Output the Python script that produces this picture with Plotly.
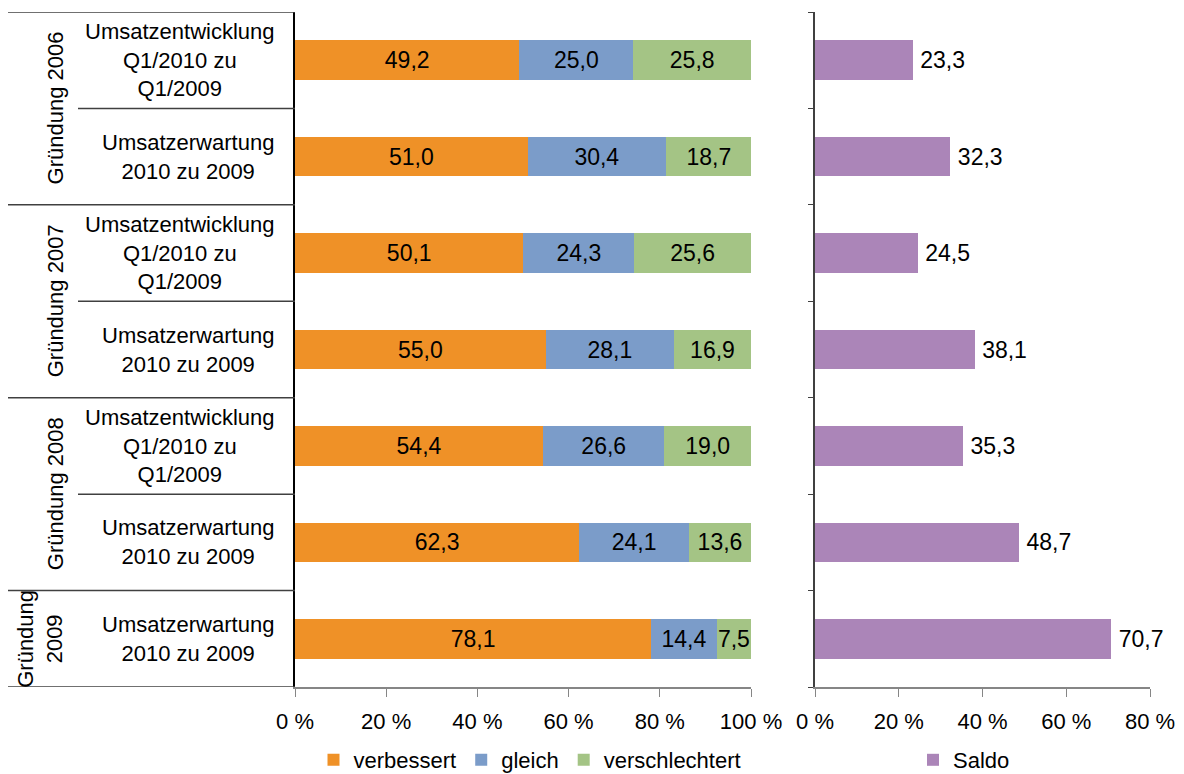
import plotly.graph_objects as go

categories = [
    "Umsatzentwicklung<br>Q1/2010 zu<br>Q1/2009",
    "Umsatzerwartung<br>2010 zu 2009",
    "Umsatzentwicklung<br>Q1/2010 zu<br>Q1/2009",
    "Umsatzerwartung<br>2010 zu 2009",
    "Umsatzentwicklung<br>Q1/2010 zu<br>Q1/2009",
    "Umsatzerwartung<br>2010 zu 2009",
    "Umsatzerwartung<br>2010 zu 2009",
]
groups = ["Gründung 2006", "Gründung 2007", "Gründung 2008", "Gründung<br>2009"]
group_spans = [(0, 1), (2, 3), (4, 5), (6, 6)]

verbessert = [49.2, 51.0, 50.1, 55.0, 54.4, 62.3, 78.1]
gleich = [25.0, 30.4, 24.3, 28.1, 26.6, 24.1, 14.4]
verschlechtert = [25.8, 18.7, 25.6, 16.9, 19.0, 13.6, 7.5]
saldo = [23.3, 32.3, 24.5, 38.1, 35.3, 48.7, 70.7]

left_ticks = [0, 20, 40, 60, 80, 100]
right_ticks = [0, 20, 40, 60, 80]

C_ORANGE = "#EF9127"
C_BLUE = "#7B9CC9"
C_GREEN = "#A4C485"
C_PURPLE = "#AB85B8"

# page body has an 8px margin: design in reference pixels, shifted by OFF
OFF = 8
W, H = 1184 - OFF, 774 - OFF
ML = 295 - OFF
MR = W - (1150 - OFF)
MT = 12 - OFF
MB = H - (687 - OFF)
PW = W - ML - MR
PH = H - MT - MB

def px2x(px):
    return (px - OFF - ML) / PW

def py2y(py):
    return (H - MB - (py - OFF)) / PH

pos = list(range(len(categories)))
FONT = "Liberation Sans, Arial, sans-serif"
FS = 22
FSV = 23

fig = go.Figure()
for name, vals, col in [("verbessert", verbessert, C_ORANGE),
                        ("gleich", gleich, C_BLUE),
                        ("verschlechtert", verschlechtert, C_GREEN)]:
    fig.add_trace(go.Bar(
        y=pos, x=vals, orientation="h", name=name, marker_color=col,
        marker_line_width=0,
        texttemplate="%{x:.1f}", textposition="inside", insidetextanchor="middle",
        textangle=0, constraintext="none",
        textfont=dict(color="black", size=FSV, family=FONT),
        xaxis="x", yaxis="y", legend="legend",
    ))

fig.add_trace(go.Bar(
    y=pos, x=saldo, orientation="h", name="Saldo", marker_color=C_PURPLE,
    marker_line_width=0,
    texttemplate="\u2009%{x:.1f}", textposition="outside", textangle=0,
    textfont=dict(color="black", size=FSV, family=FONT),
    cliponaxis=False,
    xaxis="x2", yaxis="y2", legend="legend2",
))

axis_common = dict(
    showgrid=False, zeroline=False, ticks="outside", ticklen=8,
    tickcolor="#868686", linecolor="#868686", showline=True, linewidth=1.5,
    tickfont=dict(size=FS, family=FONT, color="black"),
    ticklabelstandoff=6,
)

fig.update_layout(
    width=W, height=H,
    margin=dict(l=ML, r=MR, t=MT, b=MB, autoexpand=False),
    plot_bgcolor="white", paper_bgcolor="white",
    barmode="stack", bargap=0.59,
    separators=",.",
    uniformtext=dict(minsize=FSV, mode="show"),
    font=dict(family=FONT, size=FS, color="black"),
    xaxis=dict(domain=[0, px2x(751)], range=[0, 100], tickvals=left_ticks,
               ticktext=[f"{t} %" for t in left_ticks], anchor="y", **axis_common),
    xaxis2=dict(domain=[px2x(815), 1], range=[0, 80], tickvals=right_ticks,
                ticktext=[f"{t} %" for t in right_ticks], anchor="y2", **axis_common),
    yaxis=dict(range=[6.5, -0.5], showticklabels=False, showgrid=False, zeroline=False,
               showline=True, linecolor="black", linewidth=1.5, ticks="", anchor="x"),
    yaxis2=dict(range=[6.5, -0.5], showticklabels=False, showgrid=False, zeroline=False,
                showline=True, linecolor="#404040", linewidth=1.5, ticks="outside",
                ticklen=5, tickcolor="#404040",
                tickvals=[i - 0.5 for i in range(len(categories) + 1)], anchor="x2"),
    legend=dict(orientation="h", x=px2x(530), xanchor="center", y=py2y(760), yanchor="middle",
                font=dict(size=FS, family=FONT), traceorder="normal",
                itemwidth=30, bgcolor="rgba(0,0,0,0)"),
    legend2=dict(orientation="h", x=px2x(964), xanchor="center", y=py2y(760), yanchor="middle",
                 font=dict(size=FS, family=FONT), itemwidth=30,
                 bgcolor="rgba(0,0,0,0)"),
    showlegend=True,
)

# Category labels
for i, lab in enumerate(categories):
    cx = 180 if lab.count("<br>") == 2 else 188
    fig.add_annotation(x=px2x(cx), y=i, xref="paper", yref="y", text=lab,
                       showarrow=False, xanchor="center", yanchor="middle",
                       align="center", font=dict(size=FS, family=FONT, color="black"))

# Group labels and separators
for g, (a, b) in zip(groups, group_spans):
    fig.add_annotation(x=px2x(55) if "<br>" not in g else px2x(40), y=(a + b) / 2,
                       xref="paper", yref="y", text=g, textangle=-90,
                       showarrow=False, xanchor="center", yanchor="middle",
                       align="center", font=dict(size=FS, family=FONT, color="black"))

line_style = dict(color="#404040", width=1.5)
boundaries_outer = [-0.5] + [b + 0.5 for (_, b) in group_spans]
for yb in boundaries_outer:
    fig.add_shape(type="line", xref="paper", yref="y", x0=px2x(8), x1=0,
                  y0=yb, y1=yb, line=line_style)
for (a, b) in group_spans:
    for k in range(a, b):
        fig.add_shape(type="line", xref="paper", yref="y", x0=px2x(78), x1=0,
                      y0=k + 0.5, y1=k + 0.5, line=line_style)

fig.write_html("out.html")
